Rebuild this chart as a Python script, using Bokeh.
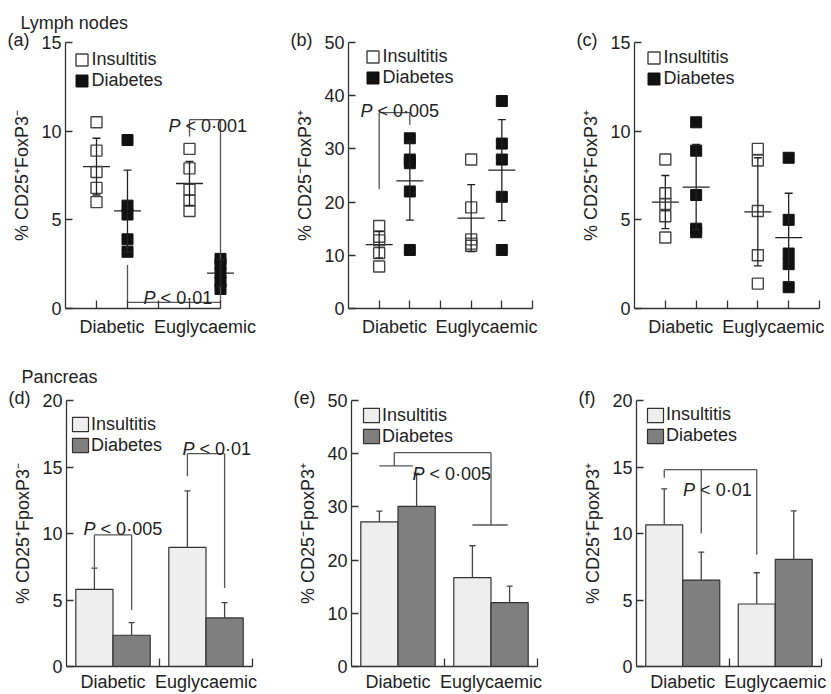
from bokeh.plotting import figure
from bokeh.layouts import row, column
from bokeh.models import (ColumnDataSource, FixedTicker, Whisker, TeeHead, Label,
                          Legend, LegendItem, Range1d, Title)
from bokeh.embed import file_html
from bokeh.resources import INLINE

FONT = "Liberation Sans"
INK = "#222222"
FS = "18px"
NAN = float("nan")

groups = ["Diabetic", "Euglycaemic"]
series = ["Insultitis", "Diabetes"]

# ---------------- Lymph nodes: individual values ----------------
# mean/sd order: [Diabetic-Insultitis, Diabetic-Diabetes, Eugly-Insultitis, Eugly-Diabetes]
a_diabetic_insultitis = [10.5, 8.9, 7.7, 6.8, 6.0]
a_diabetic_diabetes = [9.5, 5.8, 5.3, 3.9, 3.2]
a_eugly_insultitis = [9.0, 7.9, 6.7, 6.1, 5.5]
a_eugly_diabetes = [2.8, 2.5, 2.0, 1.5, 1.1]
a_mean = [8.0, 5.5, 7.05, 2.0]
a_sd = [1.6, 2.3, 1.25, 0.75]

b_diabetic_insultitis = [15.5, 13.5, 12.8, 10.4, 7.9]
b_diabetic_diabetes = [32.0, 28.0, 27.3, 22.0, 11.0]
b_eugly_insultitis = [28.0, 19.0, 13.0, 12.2, 11.8]
b_eugly_diabetes = [39.0, 31.0, 28.0, 21.0, 11.0]
b_mean = [12.0, 24.0, 17.0, 26.0]
b_sd = [2.5, 7.4, 6.3, 9.5]

c_diabetic_insultitis = [8.4, 6.5, 5.9, 5.2, 4.0]
c_diabetic_diabetes = [10.5, 8.9, 6.4, 4.5, 4.3]
c_eugly_insultitis = [9.0, 8.35, 5.5, 3.0, 1.4]
c_eugly_diabetes = [8.5, 5.0, 3.1, 2.5, 1.2]
c_mean = [6.0, 6.85, 5.45, 4.0]
c_sd = [1.5, 2.4, 3.05, 2.5]

# ---------------- Pancreas: means and SD [Diabetic, Euglycaemic] ----------------
d_insultitis = [5.8, 8.95]
d_diabetes = [2.35, 3.65]
d_insultitis_sd = [1.6, 4.25]
d_diabetes_sd = [0.95, 1.15]

e_insultitis = [27.2, 16.7]
e_diabetes = [30.1, 12.0]
e_insultitis_sd = [2.0, 6.0]
e_diabetes_sd = [6.2, 3.1]

f_insultitis = [10.65, 4.7]
f_diabetes = [6.5, 8.05]
f_insultitis_sd = [2.7, 2.35]
f_diabetes_sd = [2.1, 3.65]

# ---------------- annotations (significance brackets, data units) ----------------
brackets_a = [(4, 9.7, 4, 10.65), (4, 10.65, 5, 10.65), (5, 10.65, 5, 0.35),
              (2, 2.45, 2, 0.35), (2, 0.35, 5, 0.35)]
ptext_a = [(3.32, 10.28, "0·001"), (2.52, 0.62, "0·01")]
brackets_b = [(1, 22.4, 1, 36.8), (1, 36.8, 2, 36.8), (2, 36.8, 2, 34.5)]
ptext_b = [(0.39, 37.1, "0·005")]
brackets_c = []
ptext_c = []
brackets_d = [(0.75, 7.45, 0.75, 9.9), (0.75, 9.9, 1.75, 9.9), (1.75, 9.9, 1.75, 4.25),
              (3.25, 14.3, 3.25, 16.0), (3.25, 16.0, 4.25, 16.0), (4.25, 16.0, 4.25, 5.9)]
ptext_d = [(0.46, 10.34, "0·005"), (3.12, 16.36, "0·01")]
brackets_e = [(1.15, 37.7, 1.15, 40.2), (1.15, 40.2, 3.75, 40.2), (3.75, 40.2, 3.75, 26.6),
              (0.75, 37.7, 1.65, 37.7), (3.25, 26.6, 4.2, 26.6)]
ptext_e = [(1.64, 36.1, "0·005")]
brackets_f = [(0.75, 14.8, 3.25, 14.8), (0.75, 14.8, 0.75, 14.2), (1.75, 14.8, 1.75, 10.0),
              (3.25, 14.8, 3.25, 8.4)]
ptext_f = [(1.26, 13.25, "0·01")]

ROW_H = 21   # legend row height (px)
LEG_PAD = 3


def new_fig(geom, xmax, ymax):
    width, height, bl, br, bt, bb = geom
    p = figure(width=width, height=height, x_range=Range1d(0, xmax), y_range=Range1d(0, ymax),
               min_border_left=bl, min_border_right=br, min_border_top=bt, min_border_bottom=bb,
               output_backend="svg", toolbar_location=None, tools="")
    p.outline_line_color = None
    p.xgrid.visible = False
    p.ygrid.visible = False
    p.background_fill_color = "white"
    p.border_fill_color = "white"
    return p


def style_axes(p, ylabel, yticks, label_at, xminor, xstandoff, xbounds):
    xa = p.xaxis[0]
    ya = p.yaxis[0]
    for ax in (xa, ya):
        ax.axis_line_color = "#333333"
        ax.axis_line_width = 1.3
        ax.major_tick_line_color = "#333333"
        ax.major_tick_line_width = 1.3
        ax.minor_tick_line_color = "#333333"
        ax.minor_tick_line_width = 1.3
        ax.major_label_text_font = FONT
        ax.major_label_text_font_size = FS
        ax.major_label_text_color = INK
    xa.ticker = FixedTicker(ticks=label_at, minor_ticks=xminor)
    xa.major_label_overrides = {pos: g for pos, g in zip(label_at, groups)}
    xa.major_tick_in = 0
    xa.major_tick_out = 0
    xa.minor_tick_in = 8
    xa.minor_tick_out = 0
    xa.major_label_standoff = xstandoff
    xa.bounds = xbounds
    ya.ticker = FixedTicker(ticks=yticks)
    ya.major_tick_in = 7
    ya.major_tick_out = 0
    ya.minor_tick_in = 0
    ya.minor_tick_out = 0
    ya.major_label_standoff = 4
    ya.axis_label = ylabel
    ya.axis_label_text_font = FONT
    ya.axis_label_text_font_size = FS
    ya.axis_label_text_font_style = "normal"
    ya.axis_label_text_color = INK
    ya.axis_label_standoff = 6


def add_legend(p, renderers, frame_h, gx, gy, gw, gh, standoff):
    leg_h = 2 * LEG_PAD + 2 * ROW_H
    legend = Legend(items=[LegendItem(label=s, renderers=[r]) for s, r in zip(series, renderers)],
                    location=(gx - LEG_PAD, frame_h - (gy - LEG_PAD) - leg_h),
                    margin=0, padding=LEG_PAD, spacing=0,
                    glyph_width=gw, glyph_height=gh, label_height=18, label_standoff=standoff,
                    label_text_font=FONT, label_text_font_size=FS, label_text_color=INK,
                    border_line_alpha=0, background_fill_alpha=0)
    p.add_layout(legend)


def add_annotations(p, brackets, ptexts, letter, header=None, header_standoff=8):
    if brackets:
        p.segment(x0=[s[0] for s in brackets], y0=[s[1] for s in brackets],
                  x1=[s[2] for s in brackets], y1=[s[3] for s in brackets],
                  line_color="#555555", line_width=1.3)
    for (x, y, tail) in ptexts:
        p.add_layout(Label(x=x, y=y, text="P", text_font=FONT, text_font_size=FS,
                           text_font_style="italic", text_color=INK, text_baseline="alphabetic"))
        p.add_layout(Label(x=x, y=y, x_offset=17, text="< " + tail, text_font=FONT,
                           text_font_size=FS, text_color=INK, text_baseline="alphabetic"))
    p.add_layout(Title(text="(" + letter + ")", align="left", offset=-58, standoff=-17,
                       vertical_align="middle", text_font=FONT, text_font_size=FS,
                       text_font_style="normal", text_color=INK), "above")
    if header:
        p.add_layout(Title(text=header, align="left", offset=-45, standoff=header_standoff,
                           vertical_align="middle", text_font=FONT, text_font_size=FS,
                           text_font_style="normal", text_color=INK), "above")


POS_TOP = [1, 2, 4, 5]          # x slots: Diabetic (Ins, Dia), Euglycaemic (Ins, Dia)
GROUP_CENTER_BAR = [1.25, 3.75]  # bar group centres
BAR_W = 1.0


def scatter_panel(geom, letter, ylabel, ymax, ystep, xend, d_ins, d_dia, e_ins, e_dia, mean, sd,
                  brackets, ptexts, leg_off, header=None):
    p = new_fig(geom, 6, ymax)
    frame_h = geom[1] - geom[4] - geom[5]
    style_axes(p, ylabel, list(range(0, ymax + 1, ystep)), [1.5, 4.5],
               list(range(1, xend + 1)), 8, (0, xend))
    ins_x = [POS_TOP[0]] * len(d_ins) + [POS_TOP[2]] * len(e_ins)
    ins_y = d_ins + e_ins
    dia_x = [POS_TOP[1]] * len(d_dia) + [POS_TOP[3]] * len(e_dia)
    dia_y = d_dia + e_dia
    wsrc = ColumnDataSource(dict(base=POS_TOP, mean=mean,
                                 upper=[m + s for m, s in zip(mean, sd)],
                                 lower=[m - s for m, s in zip(mean, sd)]))
    p.add_layout(Whisker(base="base", upper="upper", lower="lower", source=wsrc,
                         line_color=INK, line_width=1.3, level="glyph",
                         upper_head=TeeHead(size=8, line_color=INK, line_width=1.3),
                         lower_head=TeeHead(size=8, line_color=INK, line_width=1.3)))
    p.scatter(x="base", y="mean", source=wsrc, marker="dash", size=27,
              line_color=INK, line_width=1.3)
    p.scatter(x=ins_x, y=ins_y, marker="square", size=11, fill_alpha=0,
              line_color="#444444", line_width=1.4)
    p.scatter(x=dia_x, y=dia_y, marker="square", size=11, fill_color="#111111",
              line_color="#111111", line_width=1)
    # legend proxies (not drawn in the plot: NaN coordinates)
    leg_ins = p.quad(left=[NAN], right=[NAN], top=[NAN], bottom=[NAN], fill_color="white",
                     line_color="#444444", line_width=1.4)
    leg_dia = p.quad(left=[NAN], right=[NAN], top=[NAN], bottom=[NAN], fill_color="#111111",
                     line_color="#111111", line_width=1)
    add_legend(p, [leg_ins, leg_dia], frame_h, leg_off[0], leg_off[1], 15, 15, 3)
    add_annotations(p, brackets, ptexts, letter, header, 8)
    return p


def bar_panel(geom, letter, ylabel, ymax, ystep, ins, dia, ins_sd, dia_sd, brackets, ptexts,
              leg_off, header=None):
    p = new_fig(geom, 5, ymax)
    frame_h = geom[1] - geom[4] - geom[5]
    style_axes(p, ylabel, list(range(0, ymax + 1, ystep)), GROUP_CENTER_BAR, [2.5, 5], 5, "auto")
    ins_x = [c - BAR_W / 2 for c in GROUP_CENTER_BAR]
    dia_x = [c + BAR_W / 2 for c in GROUP_CENTER_BAR]
    r_ins = p.vbar(x=ins_x, top=ins, width=BAR_W, fill_color="#eeeeee",
                   line_color="#333333", line_width=1.2)
    r_dia = p.vbar(x=dia_x, top=dia, width=BAR_W, fill_color="#7f7f7f",
                   line_color="#333333", line_width=1.2)
    wsrc = ColumnDataSource(dict(base=ins_x + dia_x, lower=ins + dia,
                                 upper=[v + s for v, s in zip(ins + dia, ins_sd + dia_sd)]))
    p.add_layout(Whisker(base="base", upper="upper", lower="lower", source=wsrc,
                         line_color="#444444", line_width=1.3, level="glyph",
                         upper_head=TeeHead(size=6, line_color="#444444", line_width=1.3),
                         lower_head=None))
    add_legend(p, [r_ins, r_dia], frame_h, leg_off[0], leg_off[1], 20, 18, 1)
    add_annotations(p, brackets, ptexts, letter, header, 16)
    return p


# geometry: width, height, min_border left, right, top, bottom
pa = scatter_panel((280, 340, 65, 29, 41, 32), "a", "% CD25\u207aFoxP3\u207b", 15, 5, 5,
                   a_diabetic_insultitis, a_diabetic_diabetes, a_eugly_insultitis,
                   a_eugly_diabetes, a_mean, a_sd, brackets_a, ptext_a, (8.5, 7.5),
                   "Lymph nodes")
pb = scatter_panel((271, 340, 68, 19, 42, 30), "b", "% CD25\u207bFoxP3\u207a", 50, 10, 6,
                   b_diabetic_insultitis, b_diabetic_diabetes, b_eugly_insultitis,
                   b_eugly_diabetes, b_mean, b_sd, brackets_b, ptext_b, (16.5, 5.5))
pc = scatter_panel((280, 340, 83, 12, 39, 30), "c", "% CD25\u207aFoxP3\u207a", 15, 5, 6,
                   c_diabetic_insultitis, c_diabetic_diabetes, c_eugly_insultitis,
                   c_eugly_diabetes, c_mean, c_sd, brackets_c, ptext_c, (11.5, 9.5))
pd = bar_panel((280, 354, 66, 28, 60, 28), "d", "% CD25\u207aFpoxP3\u207b", 20, 5,
               d_insultitis, d_diabetes, d_insultitis_sd, d_diabetes_sd, brackets_d, ptext_d,
               (4, 13.7), "Pancreas")
pe = bar_panel((271, 354, 71, 14, 59, 28), "e", "% CD25\u207bFpoxP3\u207a", 50, 10,
               e_insultitis, e_diabetes, e_insultitis_sd, e_diabetes_sd, brackets_e, ptext_e,
               (10, 5.7))
pf = bar_panel((280, 354, 85, 10, 60, 27), "f", "% CD25\u207aFpoxP3\u207a", 20, 5,
               f_insultitis, f_diabetes, f_insultitis_sd, f_diabetes_sd, brackets_f, ptext_f,
               (9, 5.2))

layout = column(row(pa, pb, pc), row(pd, pe, pf))
open("out.html", "w").write(file_html(layout, INLINE))
